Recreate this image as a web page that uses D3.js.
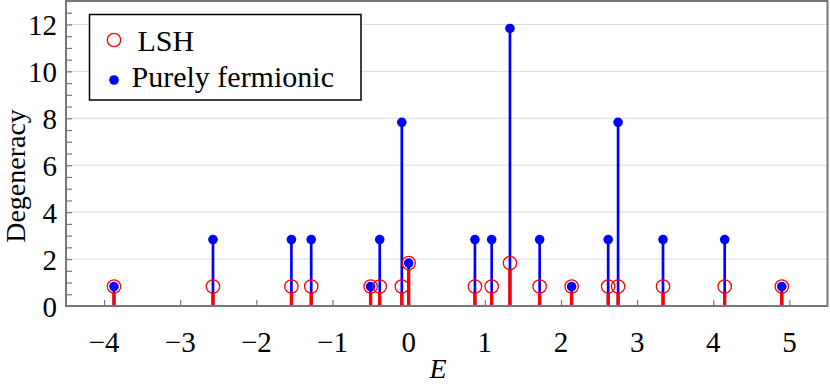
<!DOCTYPE html>
<html>
<head>
<meta charset="utf-8">
<script src="https://cdn.jsdelivr.net/npm/d3@7"></script>
<style>
  body { margin: 0; background: #fff; }
  text { font-family: "Liberation Serif", serif; fill: #000; }
</style>
</head>
<body>
<div id="chart"></div>
<script>
// energy levels (x) and the two degeneracy series
var energies = [-3.87, -2.57, -1.54, -1.28, -0.50, -0.38, -0.09, 0.0, 0.87, 1.09, 1.33, 1.72, 2.14, 2.62, 2.75, 3.34, 4.15, 4.90];
var lshValues = [0.83, 0.83, 0.83, 0.83, 0.83, 0.83, 0.83, 1.83, 0.83, 0.83, 1.83, 0.83, 0.83, 0.83, 0.83, 0.83, 0.83, 0.83];
var fermionicValues = [0.83, 2.83, 2.83, 2.83, 0.83, 2.83, 7.83, 1.83, 2.83, 2.83, 11.83, 2.83, 0.83, 2.83, 7.83, 2.83, 2.83, 0.83];
var xTicks = [-4, -3, -2, -1, 0, 1, 2, 3, 4, 5];
var yTicks = [0, 2, 4, 6, 8, 10, 12];
var legendLabels = ["LSH", "Purely fermionic"];

var width = 830, height = 384;
// note: "top" is taken by window.top, so use plot* names
var plotLeft = 66, plotRight = 827.5, plotTop = 1, plotBottom = 306;
var circleR = 6.7, dotR = 4.8;
var axisColor = "#777";

var svg = d3.select("#chart").append("svg")
    .attr("width", width)
    .attr("height", height);

var x = d3.scaleLinear().domain([-4.5, 5.5]).range([plotLeft, plotRight]);
var y = d3.scaleLinear().domain([0, 13]).range([plotBottom, plotTop]);

var lsh = energies.map(function(e, i) { return {x: e, y: lshValues[i]}; });
var ferm = energies.map(function(e, i) { return {x: e, y: fermionicValues[i]}; });

// grid lines
svg.append("g").selectAll("line")
    .data(yTicks.filter(function(t) { return t > 0; }))
    .enter().append("line")
    .attr("x1", plotLeft).attr("x2", plotRight)
    .attr("y1", function(d) { return y(d); })
    .attr("y2", function(d) { return y(d); })
    .attr("stroke", "#dcdcdc")
    .attr("stroke-width", 1);

// y axis, ticks pointing inside
var yAxis = d3.axisRight(y)
    .tickValues(d3.range(0, 13.01, 0.5))
    .tickSize(6)
    .tickFormat("");
var gy = svg.append("g").attr("transform", "translate(" + plotLeft + ",0)").call(yAxis);
gy.select(".domain").remove();
gy.selectAll(".tick line").attr("stroke", axisColor).attr("stroke-width", 1.2);

svg.append("g").selectAll("text")
    .data(yTicks)
    .enter().append("text")
    .attr("x", 57)
    .attr("y", function(d) { return y(d) + 11; })
    .attr("text-anchor", "end")
    .style("font-size", "29px")
    .text(function(d) { return d; });

// x axis, ticks pointing up
var xAxis = d3.axisTop(x).tickValues(xTicks).tickSize(6).tickFormat("");
var gx = svg.append("g").attr("transform", "translate(0," + plotBottom + ")").call(xAxis);
gx.select(".domain").remove();
gx.selectAll(".tick line").attr("stroke", axisColor).attr("stroke-width", 1.2);

svg.append("g").selectAll("text")
    .data(xTicks)
    .enter().append("text")
    .attr("x", function(d) { return x(d); })
    .attr("y", 352)
    .attr("text-anchor", "middle")
    .style("font-size", "29px")
    .text(function(d) { return d < 0 ? "\u2212" + Math.abs(d) : d; });

// blue stems + red stems
svg.append("g").selectAll("line")
    .data(ferm)
    .enter().append("line")
    .attr("x1", function(d) { return x(d.x); })
    .attr("x2", function(d) { return x(d.x); })
    .attr("y1", y(0))
    .attr("y2", function(d) { return y(d.y); })
    .attr("stroke", "#0000ff")
    .attr("stroke-width", 2.7);

svg.append("g").selectAll("line")
    .data(lsh)
    .enter().append("line")
    .attr("x1", function(d) { return x(d.x); })
    .attr("x2", function(d) { return x(d.x); })
    .attr("y1", y(0))
    .attr("y2", function(d) { return y(d.y) + circleR; })
    .attr("stroke", "#ff0000")
    .attr("stroke-width", 3.4);

svg.append("g").selectAll("circle")
    .data(ferm)
    .enter().append("circle")
    .attr("cx", function(d) { return x(d.x); })
    .attr("cy", function(d) { return y(d.y); })
    .attr("r", dotR)
    .attr("fill", "#0000ff");

svg.append("g").selectAll("circle")
    .data(lsh)
    .enter().append("circle")
    .attr("cx", function(d) { return x(d.x); })
    .attr("cy", function(d) { return y(d.y); })
    .attr("r", circleR)
    .attr("fill", "none")
    .attr("stroke", "#ff0000")
    .attr("stroke-width", 1.3);

// frame
svg.append("rect")
    .attr("x", plotLeft).attr("y", plotTop)
    .attr("width", plotRight - plotLeft).attr("height", plotBottom - plotTop)
    .attr("fill", "none")
    .attr("stroke", axisColor)
    .attr("stroke-width", 2);

// axis labels
svg.append("text")
    .attr("transform", "translate(25,176) rotate(-90)")
    .attr("text-anchor", "middle")
    .style("font-size", "28px")
    .text("Degeneracy");

svg.append("text")
    .attr("x", 438).attr("y", 378)
    .attr("text-anchor", "middle")
    .style("font-size", "28px")
    .style("font-style", "italic")
    .text("E");

// legend
var legend = svg.append("g");
legend.append("rect")
    .attr("x", 89.5).attr("y", 14.5)
    .attr("width", 271.5).attr("height", 85.5)
    .attr("fill", "#fff")
    .attr("stroke", "#000")
    .attr("stroke-width", 1.5);
legend.append("circle")
    .attr("cx", 114).attr("cy", 40).attr("r", circleR)
    .attr("fill", "none").attr("stroke", "#ff0000").attr("stroke-width", 1.3);
legend.append("circle")
    .attr("cx", 114).attr("cy", 80).attr("r", dotR)
    .attr("fill", "#0000ff");
legend.append("text")
    .attr("x", 137.5).attr("y", 51)
    .style("font-size", "30px")
    .text(legendLabels[0]);
legend.append("text")
    .attr("x", 131.5).attr("y", 87)
    .style("font-size", "30px")
    .text(legendLabels[1]);
</script>
</body>
</html>
